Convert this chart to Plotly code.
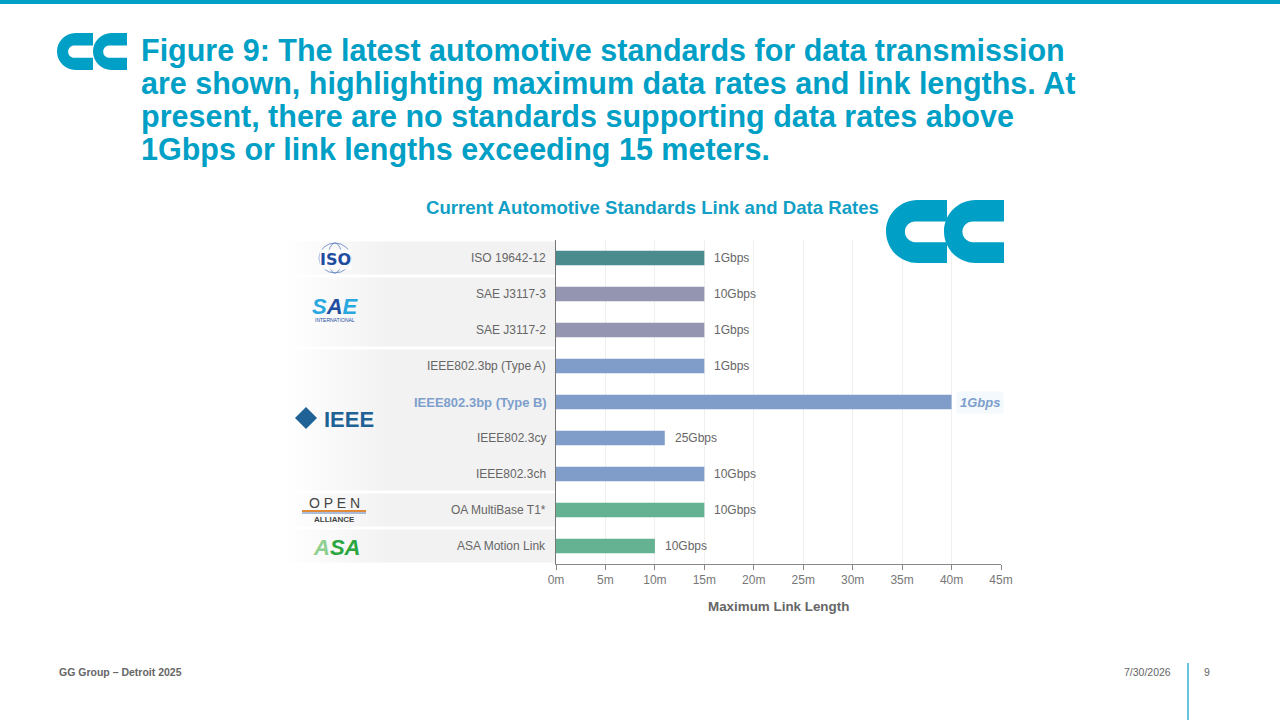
import plotly.graph_objects as go

standards = ["ISO 19642-12", "SAE J3117-3", "SAE J3117-2", "IEEE802.3bp (Type A)",
             "IEEE802.3bp (Type B)", "IEEE802.3cy", "IEEE802.3ch", "OA MultiBase T1*",
             "ASA Motion Link"]
link_length_m = [15, 15, 15, 15, 40, 11, 15, 15, 10]
data_rate = ["1Gbps", "10Gbps", "1Gbps", "1Gbps", "1Gbps", "25Gbps", "10Gbps", "10Gbps", "10Gbps"]
group = ["ISO", "SAE", "SAE", "IEEE", "IEEE", "IEEE", "IEEE", "OA", "ASA"]
highlight = "IEEE802.3bp (Type B)"

group_colors = {"ISO": "#4b8b8e", "SAE": "#9495b0", "IEEE": "#7f9dc8",
                "OA": "#64b291", "ASA": "#64b291"}

BLUE = "#009fc6"
GRAY = "#666666"
FONT = "Liberation Sans, Arial, sans-serif"

# plot area in pixels
L, R, T, B = 556, 1001, 240, 564


def px(x):
    return (x - L) / (R - L)


def py(y):
    return (B - y) / (B - T)


def gg_path(x0, y0, w, h):
    # one rounded letter of the GG logo, pixel box -> paper path
    k = 0.5523
    r = h / 2
    s0, s1 = y0 + 0.34 * h, y0 + 0.67 * h
    sr = (s1 - s0) / 2
    sx = x0 + 0.48 * w
    pts = [
        ("M", [(x0 + r, y0)]),
        ("L", [(x0 + w, y0)]),
        ("L", [(x0 + w, s0)]),
        ("L", [(sx, s0)]),
        ("C", [(sx - sr * k, s0), (sx - sr, s0 + sr - sr * k), (sx - sr, s0 + sr)]),
        ("C", [(sx - sr, s1 - sr + sr * k), (sx - sr * k, s1), (sx, s1)]),
        ("L", [(x0 + w, s1)]),
        ("L", [(x0 + w, y0 + h)]),
        ("L", [(x0 + r, y0 + h)]),
        ("C", [(x0 + r - r * k, y0 + h), (x0, y0 + r + r * k), (x0, y0 + r)]),
        ("C", [(x0, y0 + r - r * k), (x0 + r - r * k, y0), (x0 + r, y0)]),
    ]
    out = ""
    for cmd, p in pts:
        out += cmd + " " + " ".join(f"{px(a):.5f},{py(b):.5f}" for a, b in p) + " "
    return out + "Z"


def note(x, y, text, size, color, anchor="center", family=FONT, **kw):
    return dict(xref="paper", yref="paper", x=px(x), y=py(y), xanchor=anchor, yanchor="middle",
                showarrow=False, text=text, font=dict(size=size, color=color, family=family), **kw)


fig = go.Figure()
fig.add_trace(go.Bar(
    x=link_length_m, y=standards, orientation="h", width=0.4,
    marker=dict(color=[group_colors[g] for g in group], line=dict(width=0)),
    hoverinfo="x+y", showlegend=False,
))

shapes = []
annotations = []

# top bar
shapes.append(dict(type="rect", xref="paper", yref="paper", x0=px(0), x1=px(1280),
                   y0=py(0), y1=py(4), fillcolor=BLUE, line_width=0, layer="above"))

# group bands (gradient from white to light gray)
groups_order = []
for g in group:
    if g not in groups_order:
        groups_order.append(g)
for g in groups_order:
    idx = [i for i, gg in enumerate(group) if gg == g]
    y0, y1 = idx[0] - 0.46, idx[-1] + 0.46
    steps = 14
    gx0, gx1 = 288, 400
    for s in range(steps):
        c = int(255 - (255 - 242) * (s + 1) / steps)
        shapes.append(dict(type="rect", xref="paper", yref="y",
                           x0=px(gx0 + (gx1 - gx0) * s / steps),
                           x1=px(gx0 + (gx1 - gx0) * (s + 1) / steps),
                           y0=y0, y1=y1, fillcolor=f"rgb({c},{c},{c})", line_width=0, layer="below"))
    shapes.append(dict(type="rect", xref="paper", yref="y", x0=px(gx1), x1=px(L),
                       y0=y0, y1=y1, fillcolor="#f2f2f2", line_width=0, layer="below"))

# category labels
for name in standards:
    if name == highlight:
        annotations.append(dict(xref="paper", yref="y", x=px(549), y=name, xanchor="right",
                                yanchor="middle", text=f"<b>{name}</b>", showarrow=False,
                                font=dict(size=13, color="#7d9fcc", family=FONT)))
    else:
        annotations.append(dict(xref="paper", yref="y", x=px(548), y=name, xanchor="right",
                                yanchor="middle", text=name, showarrow=False,
                                font=dict(size=12, color=GRAY, family=FONT)))

# value labels
for name, val, rate in zip(standards, link_length_m, data_rate):
    if name == highlight:
        annotations.append(dict(x=val, y=name, xanchor="left", yanchor="middle", xshift=4,
                                text=f"<b><i>{rate}</i></b>", showarrow=False,
                                bgcolor="#f3f9fc", borderpad=3,
                                font=dict(size=13, color="#7d9fcc", family=FONT)))
    else:
        annotations.append(dict(x=val, y=name, xanchor="left", yanchor="middle", xshift=8,
                                text=rate, showarrow=False,
                                font=dict(size=12, color=GRAY, family=FONT)))

# logos (text approximations)
shapes.append(dict(type="circle", xref="paper", yref="paper", x0=px(319), x1=px(351),
                   y0=py(243), y1=py(273), line=dict(color="#5a7fc0", width=0.8)))
shapes.append(dict(type="circle", xref="paper", yref="paper", x0=px(328), x1=px(342),
                   y0=py(243), y1=py(273), line=dict(color="#5a7fc0", width=0.8)))
annotations.append(note(335, 259, "<b>ISO</b>", 16, "#1f4ea0", family="DejaVu Sans",
                        bgcolor="rgba(255,255,255,0.85)", borderpad=0))
annotations.append(note(335, 306, "<b><i>S<span style='color:#1f4ea0'>A</span>E</i></b>",
                        22, "#29a8e0"))
annotations.append(note(335, 320, "INTERNATIONAL", 5, "#1f4ea0"))
shapes.append(dict(type="path", xref="paper", yref="paper",
                   path=f"M {px(295)},{py(418)} L {px(306)},{py(407)} L {px(317)},{py(418)} "
                        f"L {px(306)},{py(429)} Z",
                   fillcolor="#1f6396", line=dict(width=0)))
annotations.append(note(349, 419, "<b>IEEE</b>", 22, "#1f6396"))
annotations.append(note(334, 503, "O P E N", 14, "#444444"))
shapes.append(dict(type="line", xref="paper", yref="paper", x0=px(302), x1=px(366),
                   y0=py(511), y1=py(511), line=dict(color="#e08a3c", width=2)))
shapes.append(dict(type="line", xref="paper", yref="paper", x0=px(302), x1=px(366),
                   y0=py(513), y1=py(513), line=dict(color="#5a7fb8", width=1)))
annotations.append(note(334, 519, "<b>ALLIANCE</b>", 8, "#444444"))
annotations.append(note(336, 547, "<b><i><span style='color:#8fcf8f'>A</span>SA</i></b>",
                        22, "#2aa640"))

# GG logos
for x0, y0, w, h in [(57, 33, 36, 37), (93, 33, 34, 37), (886, 200, 61, 63), (944, 200, 60, 63)]:
    shapes.append(dict(type="path", xref="paper", yref="paper", path=gg_path(x0, y0, w, h),
                       fillcolor=BLUE, line=dict(width=0), layer="above"))

# slide title
title_lines = ["Figure 9: The latest automotive standards for data transmission",
               "are shown, highlighting maximum data rates and link lengths. At",
               "present, there are no standards supporting data rates above",
               "1Gbps or link lengths exceeding 15 meters."]
for i, line in enumerate(title_lines):
    annotations.append(note(139, 50 + 33 * i, f"<b>{line}</b>", 30.5, BLUE, anchor="left"))

# chart title
annotations.append(note(652, 207, "<b>Current Automotive Standards Link and Data Rates</b>",
                        18.6, "#119fc6"))

# axis title
annotations.append(note(778, 606, "<b>Maximum Link Length</b>", 13.4, GRAY))

# footer
annotations.append(note(57, 672, "<b>GG Group – Detroit 2025</b>", 10.5, GRAY, anchor="left"))
annotations.append(note(1173, 672, "7/30/2026", 10.5, GRAY, anchor="right"))
annotations.append(note(1202, 672, "9", 10.5, GRAY, anchor="left"))
shapes.append(dict(type="line", xref="paper", yref="paper", x0=px(1188), x1=px(1188),
                   y0=py(663), y1=py(720), line=dict(color=BLUE, width=1.2)))

fig.update_layout(
    width=1280, height=720,
    margin=dict(l=L, r=1280 - R, t=T, b=720 - B, pad=0),
    paper_bgcolor="white", plot_bgcolor="white",
    font=dict(family=FONT, color=GRAY),
    bargap=0.6,
    shapes=shapes, annotations=annotations,
    xaxis=dict(range=[0, 45], dtick=5, ticksuffix="m", showgrid=True, gridcolor="#efefef",
               showline=True, linecolor="#888888", linewidth=1, ticks="outside", ticklen=5,
               tickcolor="#888888", tickfont=dict(size=12, color="#777777", family=FONT),
               zeroline=False, fixedrange=True),
    yaxis=dict(categoryorder="array", categoryarray=standards, autorange="reversed",
               showticklabels=False, showline=True, linecolor="#777777", linewidth=1,
               showgrid=False, zeroline=False, fixedrange=True),
)

fig.write_html("out.html", config={"displayModeBar": False},
               post_script="document.body.style.margin='0';")
